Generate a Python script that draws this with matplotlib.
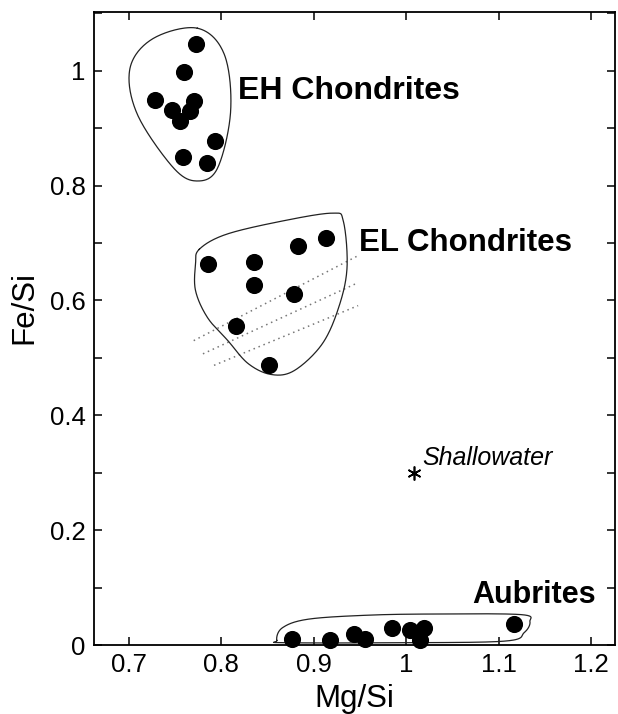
import numpy as np
import matplotlib
matplotlib.use('Agg')
import matplotlib.pyplot as plt
from matplotlib.ticker import MultipleLocator, FuncFormatter

plt.rcParams['font.family'] = ['Liberation Sans', 'DejaVu Sans']

# --- data (Mg/Si, Fe/Si) ---
eh_mg = [0.773, 0.760, 0.728, 0.746, 0.755, 0.766, 0.770, 0.793, 0.758, 0.784]
eh_fe = [1.046, 0.997, 0.949, 0.931, 0.912, 0.930, 0.947, 0.877, 0.850, 0.840]

el_mg = [0.785, 0.835, 0.835, 0.883, 0.913, 0.879, 0.816, 0.851]
el_fe = [0.664, 0.667, 0.627, 0.694, 0.709, 0.611, 0.555, 0.488]

aub_mg = [0.876, 0.918, 0.944, 0.955, 0.985, 1.004, 1.019, 1.015, 1.117]
aub_fe = [0.010, 0.009, 0.020, 0.010, 0.029, 0.026, 0.029, 0.009, 0.037]

shallow_mg, shallow_fe = 1.008, 0.300

# hand-drawn group outlines (vertices, closed)
eh_hull_mg = [0.774, 0.803, 0.810, 0.796, 0.774, 0.748, 0.709, 0.701, 0.726]
eh_hull_fe = [1.074, 1.029, 0.930, 0.831, 0.808, 0.831, 0.924, 1.004, 1.056]

el_hull_mg = [0.776, 0.805, 0.865, 0.920, 0.932, 0.936, 0.927, 0.909, 0.879,
              0.854, 0.829, 0.807, 0.785, 0.772, 0.772]
el_hull_fe = [0.689, 0.715, 0.738, 0.752, 0.738, 0.657, 0.588, 0.524, 0.478,
              0.471, 0.490, 0.530, 0.570, 0.617, 0.663]

aub_hull_mg = [0.860, 0.866, 0.894, 0.959, 1.031, 1.124, 1.134, 1.128, 1.108,
               1.000, 0.870]
aub_hull_fe = [0.008, 0.030, 0.045, 0.052, 0.054, 0.053, 0.041, 0.022, 0.007,
               0.004, 0.004]

# dotted trend lines across the EL field: (x0, y0, x1, y1)
dot_x0 = [0.770, 0.780, 0.792]
dot_y0 = [0.530, 0.507, 0.487]
dot_x1 = [0.948, 0.948, 0.948]
dot_y1 = [0.678, 0.631, 0.591]


def smooth_closed(xs, ys, n=30):
    # closed catmull-rom through the outline vertices
    p = np.column_stack([xs, ys])
    m = len(p)
    out = []
    for i in range(m):
        p0, p1, p2, p3 = p[(i - 1) % m], p[i], p[(i + 1) % m], p[(i + 2) % m]
        t = np.linspace(0, 1, n, endpoint=False)[:, None]
        seg = 0.5 * ((2 * p1) + (-p0 + p2) * t + (2 * p0 - 5 * p1 + 4 * p2 - p3) * t ** 2
                     + (-p0 + 3 * p1 - 3 * p2 + p3) * t ** 3)
        out.append(seg)
    out = np.vstack(out + [out[0][:1]])
    return out[:, 0], out[:, 1]


fig = plt.figure(figsize=(6.18, 7.14), dpi=100)
ax = fig.add_axes([0.152, 0.0966, 0.843, 0.8864])

for hx, hy in [(eh_hull_mg, eh_hull_fe), (el_hull_mg, el_hull_fe), (aub_hull_mg, aub_hull_fe)]:
    sx, sy = smooth_closed(hx, hy)
    ax.plot(sx, sy, color='#222222', lw=0.9, zorder=2)

for i in range(len(dot_x0)):
    ax.plot([dot_x0[i], dot_x1[i]], [dot_y0[i], dot_y1[i]], ls=(0, (1, 2.5)),
            color='#777777', lw=1.1, zorder=1)

ms = 128
ax.scatter(eh_mg, eh_fe, s=ms, color='black', zorder=3)
ax.scatter(el_mg, el_fe, s=ms, color='black', zorder=3)
ax.scatter(aub_mg, aub_fe, s=ms, color='black', zorder=3, clip_on=False)
# asterisk for Shallowater
ax.plot([shallow_mg], [shallow_fe], marker=(6, 2, 0), ms=10, color='black',
        mew=1.2, zorder=3)

ax.text(0.818, 0.950, 'EH Chondrites', fontsize=23, fontweight='bold', va='baseline')
ax.text(0.949, 0.686, 'EL Chondrites', fontsize=22.5, fontweight='bold', va='baseline')
ax.text(1.072, 0.073, 'Aubrites', fontsize=22, fontweight='bold', va='baseline')
ax.text(1.017, 0.313, 'Shallowater', fontsize=18, fontstyle='italic', va='baseline')

ax.set_xlim(0.662, 1.226)
ax.set_ylim(0, 1.102)

ax.xaxis.set_major_locator(MultipleLocator(0.1))
ax.yaxis.set_major_locator(MultipleLocator(0.2))
ax.yaxis.set_minor_locator(MultipleLocator(0.1))
fmt = FuncFormatter(lambda v, p: ('%.1f' % v).rstrip('0').rstrip('.') if abs(v) > 1e-9 else '0')
ax.xaxis.set_major_formatter(fmt)
ax.yaxis.set_major_formatter(fmt)

ax.tick_params(which='both', direction='in', top=True, right=True, width=1.1,
               labelsize=18.5, pad=6)
ax.tick_params(which='major', length=6)
ax.tick_params(which='minor', length=6)
for s in ax.spines.values():
    s.set_linewidth(1.3)

ax.set_xlabel('Mg/Si', fontsize=22.5)
ax.set_ylabel('Fe/Si', fontsize=22.5)
ax.xaxis.set_label_coords(0.5, -0.062)
ax.yaxis.set_label_coords(-0.105, 0.533)

fig.savefig('out.png', dpi=100)
